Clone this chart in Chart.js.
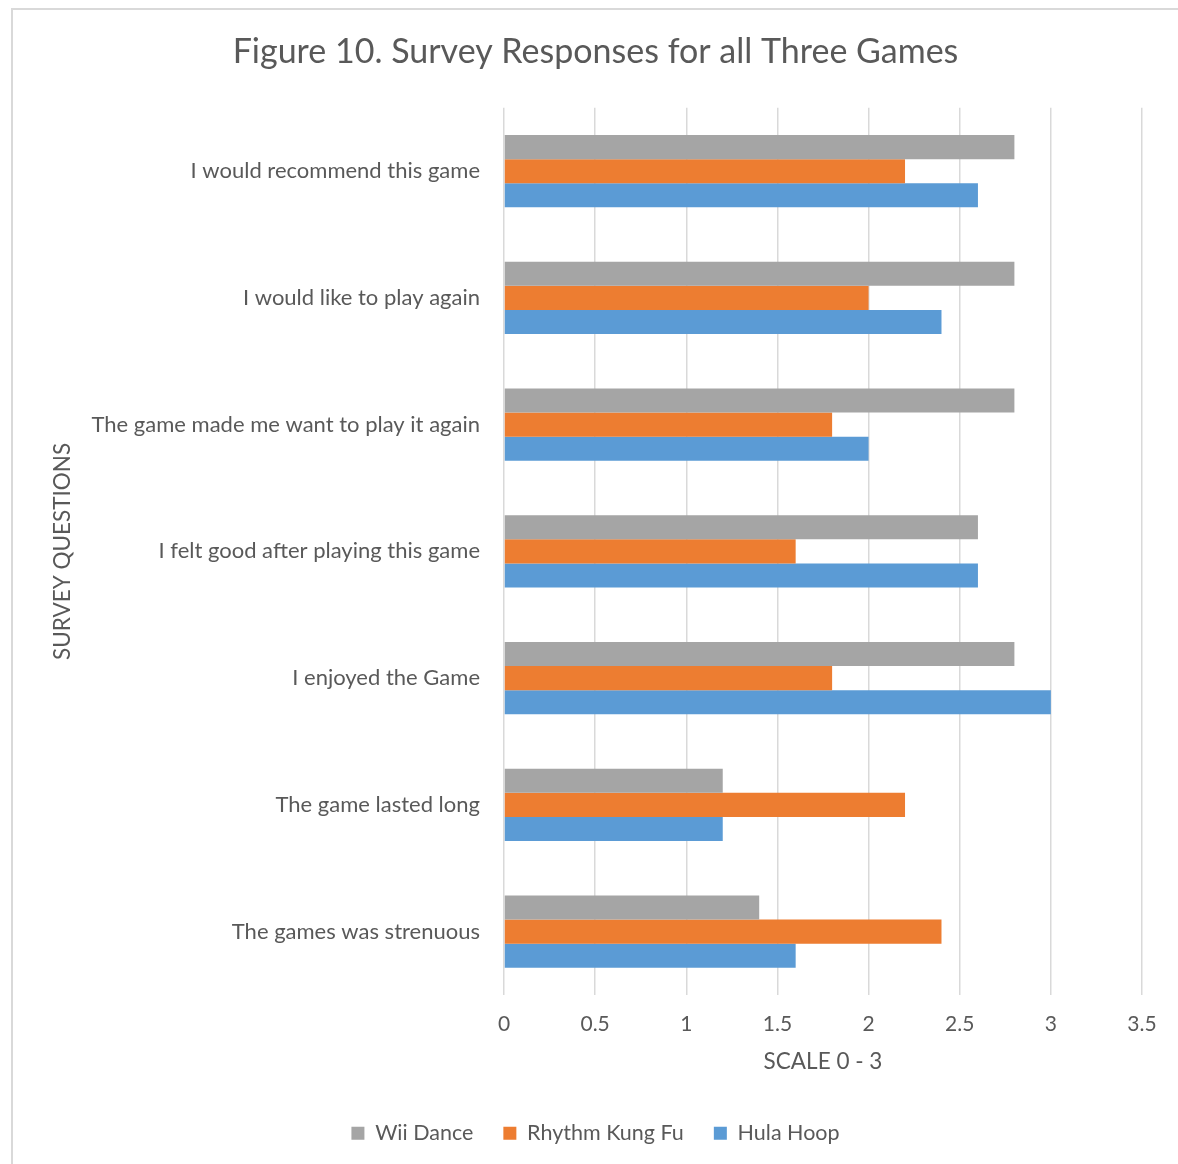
<!DOCTYPE html>
<html>
<head>
<meta charset="utf-8">
<script src="https://cdn.jsdelivr.net/npm/chart.js@4.4.0/dist/chart.umd.min.js"></script>
<style>
  html, body { margin: 0; padding: 0; background: #fff; }
  #wrap { position: relative; width: 1178px; height: 1164px; }
  #frame {
    position: absolute; left: 11px; top: 8px; right: 0; bottom: 0;
    border-left: 2px solid #d9d9d9; border-top: 2px solid #d9d9d9;
  }
  #chart { position: absolute; left: 0; top: 0; }
</style>
</head>
<body>
<div id="wrap">
  <div id="frame"></div>
  <canvas id="chart" width="1178" height="1164"></canvas>
</div>
<script>
// --- DATA ---
const questions = [
    'I would recommend this game',
    'I would like to play again',
    'The game made me want to play it again',
    'I felt good after playing this game',
    'I enjoyed the Game',
    'The game lasted long',
    'The games was strenuous'
];
const wiiDance = [2.8, 2.8, 2.8, 2.6, 2.8, 1.2, 1.4];
const rhythmKungFu = [2.2, 2.0, 1.8, 1.6, 1.8, 2.2, 2.4];
const hulaHoop = [2.6, 2.4, 2.0, 2.6, 3.0, 1.2, 1.6];
const scaleTicks = [0, 0.5, 1, 1.5, 2, 2.5, 3, 3.5];
const scaleTickLabels = ['0', '0.5', '1', '1.5', '2', '2.5', '3', '3.5'];

const textColor = '#595959';
const fontFamily = 'Lato, "Open Sans", sans-serif';

const ctx = document.getElementById('chart').getContext('2d');

new Chart(ctx, {
    type: 'bar',
    data: {
        labels: questions,
        datasets: [
            { label: 'Wii Dance', data: wiiDance, backgroundColor: '#a5a5a5' },
            { label: 'Rhythm Kung Fu', data: rhythmKungFu, backgroundColor: '#ed7d31' },
            { label: 'Hula Hoop', data: hulaHoop, backgroundColor: '#5b9bd5' }
        ]
    },
    options: {
        indexAxis: 'y',
        responsive: false,
        animation: false,
        barPercentage: 1,
        categoryPercentage: 0.57,
        layout: { padding: { left: 49, right: 36, top: 0, bottom: 10 } },
        plugins: {
            title: {
                display: true,
                text: 'Figure 10. Survey Responses for all Three Games',
                color: textColor,
                font: { family: fontFamily, size: 34, weight: 'normal' },
                padding: { top: 32, bottom: 35 }
            },
            legend: {
                position: 'bottom',
                labels: {
                    color: textColor,
                    font: { family: fontFamily, size: 21.5 },
                    boxWidth: 13,
                    boxHeight: 13,
                    padding: 30
                }
            },
            tooltip: { enabled: false }
        },
        scales: {
            x: {
                min: 0,
                max: 3.5,
                afterBuildTicks: (scale) => {
                    scale.ticks = scaleTicks.map(v => ({ value: v }));
                },
                afterFit: (scale) => { scale.height = 97.5; },
                border: { display: false },
                grid: { color: '#d9d9d9', lineWidth: 1.5, drawTicks: false },
                ticks: {
                    color: textColor,
                    font: { family: fontFamily, size: 21 },
                    padding: 17,
                    callback: (value, i) => scaleTickLabels[i]
                },
                title: {
                    display: true,
                    text: 'SCALE 0 - 3',
                    color: textColor,
                    font: { family: fontFamily, size: 22.5 },
                    padding: { top: 0, bottom: 17 }
                }
            },
            y: {
                afterFit: (scale) => { scale.width = 455; },
                border: { display: false },
                grid: { display: false, drawTicks: false },
                ticks: {
                    color: textColor,
                    font: { family: fontFamily, size: 22 },
                    padding: 24
                },
                title: {
                    display: true,
                    text: 'SURVEY QUESTIONS',
                    color: textColor,
                    font: { family: fontFamily, size: 22.5 },
                    padding: 0
                }
            }
        }
    }
});
</script>
</body>
</html>
